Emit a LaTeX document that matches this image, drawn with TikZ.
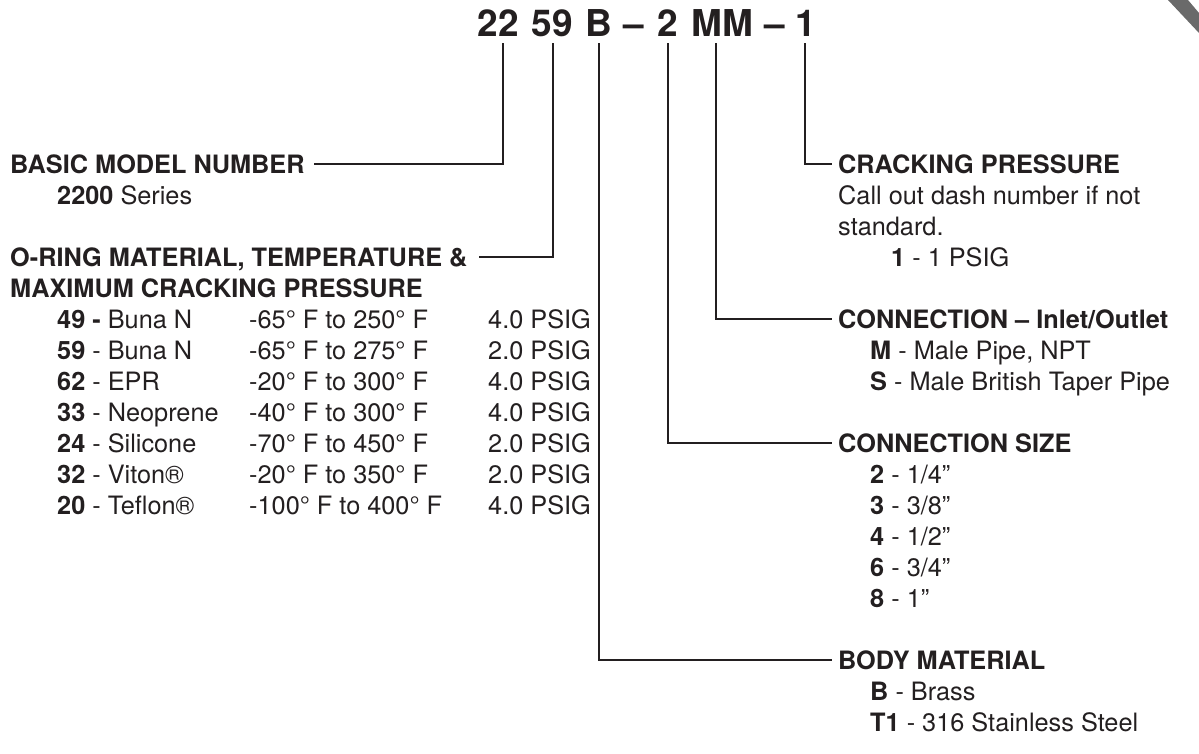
\documentclass[tikz,border=0pt]{standalone}
\usepackage{fontspec}
\setmainfont{TeX Gyre Heros}
\usetikzlibrary{calc}
\definecolor{ink}{HTML}{231F20}
\definecolor{band}{HTML}{6A6A6A}
\begin{document}
\begin{tikzpicture}[x=1pt,y=-1pt,
  txt/.style={inner sep=0pt, anchor=base west, font=\fontsize{25.3}{31}\selectfont, text=ink},
  hdr/.style={txt, font=\fontsize{25.3}{31}\selectfont\bfseries},
  ttl/.style={inner sep=0pt, anchor=base, font=\fontsize{37}{44}\selectfont\bfseries, text=ink},
  ln/.style={draw=ink, line width=2pt}]
\useasboundingbox (0,0) rectangle (1199,753);
\fill[band] (1168,0) -- (1188,0) -- (1199,13) -- (1199,33) -- cycle;

% title
\node[ttl] (t22) at (498,36) {22};
\node[ttl] (t59) at (552,36) {59};
\node[ttl] (tB) at (599,36) {B};
\node[ttl] (td1) at (634,36) {–};
\node[ttl] (t2) at (668,36) {2};
\node[ttl] (tMM) at (722,36) {MM};
\node[ttl] (td2) at (775,36) {–};
\node[ttl] (t1) at (806,36) {1};

\coordinate (v22) at (503,43);
\coordinate (v59) at (553,43);
\coordinate (vB) at (599,43);
\coordinate (v2) at (668,43);
\coordinate (vMM) at (716,43);
\coordinate (v1) at (805,43);

% left column
\node[hdr] (basic) at (10,173) {BASIC MODEL NUMBER};
\node[txt] (series) at (57,204) {\textbf{2200} Series};
\node[hdr] (oring) at (10,266) {O-RING MATERIAL, TEMPERATURE \&};
\node[hdr] (maxc) at (10,297) {MAXIMUM CRACKING PRESSURE};

\foreach \y/\code/\name/\temp/\psi [count=\i] in {
  328/{49 -}/{ Buna N}/{-65° F to 250° F}/{4.0 PSIG},
  359/{59}/{ - Buna N}/{-65° F to 275° F}/{2.0 PSIG},
  390/{62}/{ - EPR}/{-20° F to 300° F}/{4.0 PSIG},
  421/{33}/{ - Neoprene}/{-40° F to 300° F}/{4.0 PSIG},
  452/{24}/{ - Silicone}/{-70° F to 450° F}/{2.0 PSIG},
  483/{32}/{ - Viton®}/{-20° F to 350° F}/{2.0 PSIG},
  514/{20}/{ - Teflon®}/{-100° F to 400° F}/{4.0 PSIG}}{
  \node[txt] (mat\i) at (57,\y) {\textbf{\code}\name};
  \node[txt] (tmp\i) at (249,\y) {\temp};
  \node[txt] (psi\i) at (488,\y) {\psi};
}

% right column
\node[hdr] (crack) at (838,173) {CRACKING PRESSURE};
\node[txt] (call) at (838,204) {Call out dash number if not};
\node[txt] (std) at (838,235) {standard.};
\node[txt] (one) at (891,266) {\textbf{1} - 1 PSIG};

\node[hdr] (conn) at (838,328) {CONNECTION – Inlet/Outlet};
\node[txt] (cm) at (870,359) {\textbf{M} - Male Pipe, NPT};
\node[txt] (cs) at (870,390) {\textbf{S} - Male British Taper Pipe};

\node[hdr] (size) at (838,452) {CONNECTION SIZE};
\node[txt] (s2) at (870,483) {\textbf{2} - 1/4"};
\node[txt] (s3) at (870,514) {\textbf{3} - 3/8”};
\node[txt] (s4) at (870,545) {\textbf{4} - 1/2”};
\node[txt] (s6) at (870,576) {\textbf{6} - 3/4”};
\node[txt] (s8) at (870,607) {\textbf{8} - 1”};

\node[hdr] (body) at (838,669) {BODY MATERIAL};
\node[txt] (bb) at (870,700) {\textbf{B} - Brass};
\node[txt] (bt) at (870,731) {\textbf{T1} - 316 Stainless Steel};

% connectors
\draw[ln] (v22) |- ($(basic.base east)+(9,-9)$);
\draw[ln] (v59) |- ($(oring.base east)+(11,-9)$);
\draw[ln] (vB) |- ($(body.base west)+(-6,-9)$);
\draw[ln] (v2) |- ($(size.base west)+(-6,-9)$);
\draw[ln] (vMM) |- ($(conn.base west)+(-6,-9)$);
\draw[ln] (v1) |- ($(crack.base west)+(-6,-9)$);
\end{tikzpicture}
\end{document}
